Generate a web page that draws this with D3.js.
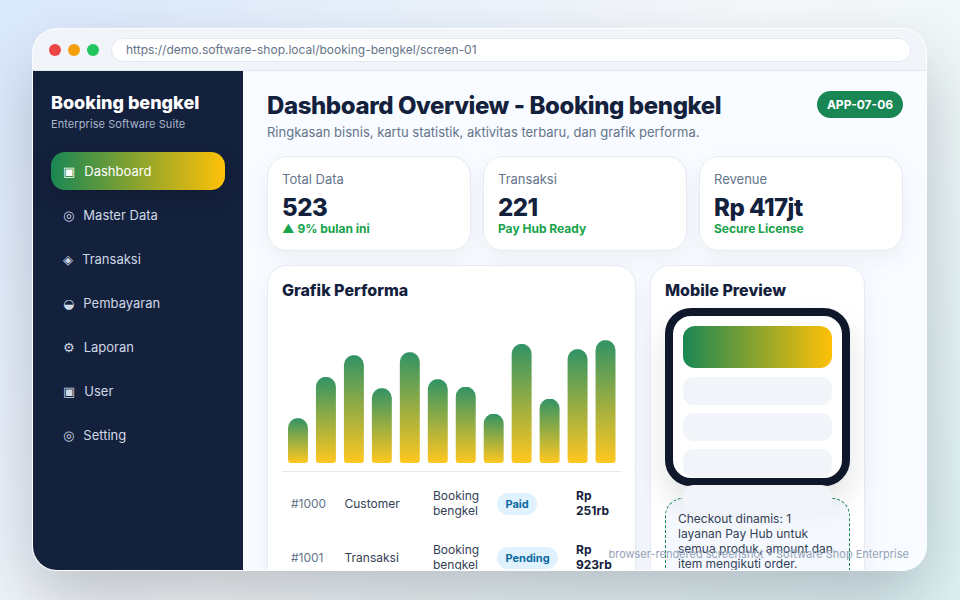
<!DOCTYPE html>
<html>
<head>
<meta charset="utf-8">
<script src="https://cdn.jsdelivr.net/npm/d3@7"></script>
<style>
* { box-sizing: border-box; }
html, body { margin: 0; width: 960px; height: 600px; overflow: hidden; }
body {
    font-family: Inter, "DejaVu Sans", sans-serif;
    background: linear-gradient(135deg, #dbeafe 0%, #f8fafc 50%, #dff4f5 100%);
    position: relative;
}
.abs { position: absolute; white-space: nowrap; }
#win {
    position: absolute; left: 33px; top: 29px; width: 893px; height: 541px;
    border-radius: 24px; overflow: hidden; background: #f8fbff;
}
#shadow {
    position: absolute; left: 32px; top: 28px; width: 895px; height: 543px;
    border-radius: 25px; background: rgba(255, 255, 255, .85);
    box-shadow: 0 30px 70px rgba(15, 23, 42, .25);
}
#bar { left: 0; top: 0; width: 894px; height: 42px; background: #f1f5f9; border-bottom: 1px solid #e2e8f0; }
.dot { top: 15px; width: 12px; height: 12px; border-radius: 50%; }
#url {
    left: 78px; top: 9px; width: 800px; height: 24px; background: #fff; border: 1px solid #e2e8f0;
    border-radius: 12px; font-size: 12px; line-height: 22px; padding-left: 14px; color: #64748b;
}
#side { left: 0; top: 42px; width: 210px; height: 500px; background: #14213d; }
#brand { left: 18px; top: 20px; font-size: 18px; font-weight: 800; color: #fff; line-height: 24px; }
#suite { left: 18px; top: 46px; font-size: 11px; color: #a9b6ca; line-height: 14px; letter-spacing: .08px; }
.nav {
    left: 18px; width: 174px; height: 38px; border-radius: 14px; padding-left: 12px;
    display: flex; align-items: center; gap: 9px; font-size: 13px; color: #cfd8e6;
}
.nav .ico { font-weight: 700; }
.nav.on { background: linear-gradient(90deg, #198754, #ffc107); color: #fff; box-shadow: 0 8px 20px rgba(0, 0, 0, .18); }
#title { left: 234px; top: 60px; font-size: 24px; font-weight: 800; color: #14213d; line-height: 34px; letter-spacing: -0.4px; }
#sub { left: 234px; top: 94px; font-size: 13px; color: #64748b; line-height: 18px; }
#tag {
    left: 784px; top: 62px; width: 86px; height: 27px; border-radius: 14px; background: #198754; color: #fff;
    font-size: 12px; font-weight: 700; text-align: center; line-height: 27px;
}
.card { background: #fff; border: 1px solid #e6ebf2; border-radius: 20px; box-shadow: 0 8px 24px rgba(15, 23, 42, .05); }
.stat { top: 127px; width: 204px; height: 95px; }
.stat .lab { left: 14px; top: 14px; font-size: 13px; color: #64748b; line-height: 16px; }
.stat .val { left: 14px; top: 36px; font-size: 24px; font-weight: 800; color: #14213d; line-height: 30px; letter-spacing: -0.5px; }
.stat .note { left: 14px; top: 64px; font-size: 12px; font-weight: 700; color: #16a34a; line-height: 15px; }
#chartCard { left: 234px; top: 236px; width: 369px; height: 340px; }
#phoneCard { left: 617px; top: 236px; width: 215px; height: 340px; }
.h3 { left: 14px; top: 13px; font-size: 16px; font-weight: 800; color: #14213d; line-height: 22px; }
#plot { position: absolute; left: 0; top: 0; }
#rule { left: 14px; top: 205px; width: 339px; height: 1px; background: #e2e8f0; }
.cell { font-size: 12px; line-height: 15px; color: #334155; }
.cell.id { color: #64748b; }
.cell.amt { font-weight: 700; color: #14213d; }
.badge {
    height: 22px; border-radius: 11px; background: #e0f2fe; color: #0b6aa2;
    font-size: 11px; font-weight: 700; line-height: 22px; padding: 0 8.5px;
}
#phone {
    left: 632px; top: 279px; width: 185px; height: 178px; border: 8px solid #0f172a; border-radius: 26px;
    background: #fff; box-shadow: 0 16px 30px rgba(15, 23, 42, .12);
}
.slot { left: 650px; width: 149px; border-radius: 10px; background: #f1f5f9; }
#hero { top: 297px; height: 42px; border-radius: 12px; background: linear-gradient(90deg, #198754, #ffc107); }
#note {
    left: 632px; top: 469px; width: 185px; height: 110px; border: 1px dashed #198754; border-radius: 18px;
    background: #f5f9ff;
}
#noteText { left: 645px; top: 482px; width: 160px; white-space: normal; font-size: 12px; line-height: 15px; color: #334155; }
#mark { right: 51px; top: 547px; font-size: 11px; color: #94a3b8; line-height: 14px; }
</style>
</head>
<body>
<div id="shadow"></div>
<div id="win"></div>
<div id="mark" class="abs"></div>
<script>
const barValues = [30, 57.5, 72, 50, 74, 56, 51, 33, 79.5, 43, 76, 82];

const navLabels = ['Dashboard', 'Master Data', 'Transaksi', 'Pembayaran', 'Laporan', 'User', 'Setting'];
const navIcons = ['\u25A3', '\u25CE', '\u25C8', '\u25D2', '\u2699', '\u25A3', '\u25CE'];

const statLabels = ['Total Data', 'Transaksi', 'Revenue'];
const statValues = ['523', '221', 'Rp 417jt'];
const statNotes = ['\u25B2 9% bulan ini', 'Pay Hub Ready', 'Secure License'];

const rowIds = ['#1000', '#1001'];
const rowNames = ['Customer', 'Transaksi'];
const rowStatus = ['Paid', 'Pending'];
const rowAmounts = ['Rp 251rb', 'Rp 923rb'];
const rowProduct = 'Booking bengkel';

const win = d3.select('#win');

function put(parent, cls, text, id) {
    const el = parent.append('div').attr('class', 'abs ' + cls);
    if (id) el.attr('id', id);
    if (text) el.text(text);
    return el;
}

// browser bar
const bar = put(win, '', null, 'bar');
['#ef4444', '#f59e0b', '#22c55e'].forEach((c, i) => {
    put(bar, 'dot').style('left', (16 + i * 19) + 'px').style('background', c);
});
put(bar, '', 'https://demo.software-shop.local/booking-bengkel/screen-01', 'url');

// sidebar
const side = put(win, '', null, 'side');
put(side, '', 'Booking bengkel', 'brand');
put(side, '', 'Enterprise Software Suite', 'suite');
navLabels.forEach((label, i) => {
    const item = put(side, 'nav' + (i === 0 ? ' on' : '')).style('top', (81 + i * 44) + 'px');
    item.append('span').attr('class', 'ico').text(navIcons[i]);
    item.append('span').text(label);
});

// header
put(win, '', 'Dashboard Overview - Booking bengkel', 'title');
put(win, '', 'Ringkasan bisnis, kartu statistik, aktivitas terbaru, dan grafik performa.', 'sub');
put(win, '', 'APP-07-06', 'tag');

// stat cards
statLabels.forEach((label, i) => {
    const card = put(win, 'card stat').style('left', (234 + i * 216) + 'px');
    put(card, 'lab', label);
    put(card, 'val', statValues[i]);
    put(card, 'note', statNotes[i]);
});

// chart card
const chartCard = put(win, 'card', null, 'chartCard');
put(chartCard, 'h3', 'Grafik Performa');

const plotW = 369, plotH = 210;
const base = 197; // bar baseline inside the card
const svg = chartCard.append('svg').attr('id', 'plot').attr('width', plotW).attr('height', plotH);

const x = d3.scaleBand()
    .domain(barValues.map((d, i) => i))
    .range([20, 347.5])
    .paddingInner(8 / 27.9);

const y = d3.scaleLinear().domain([0, 100]).range([base, base - 150]);

const grad = svg.append('defs').append('linearGradient')
    .attr('id', 'barFill')
    .attr('x1', 0).attr('y1', 0).attr('x2', 0).attr('y2', 1);
grad.append('stop').attr('offset', 0).attr('stop-color', '#198754');
grad.append('stop').attr('offset', 1).attr('stop-color', '#ffc107');

function barPath(d, i) {
    const x0 = x(i), w = x.bandwidth(), top = y(d), r = 10, b = 3;
    return `M${x0},${top + r}A${r},${r} 0 0 1 ${x0 + r},${top}L${x0 + w - r},${top}` +
        `A${r},${r} 0 0 1 ${x0 + w},${top + r}L${x0 + w},${base - b}A${b},${b} 0 0 1 ${x0 + w - b},${base}` +
        `L${x0 + b},${base}A${b},${b} 0 0 1 ${x0},${base - b}Z`;
}

svg.selectAll('path.bar')
    .data(barValues)
    .enter()
    .append('path')
    .attr('class', 'bar')
    .attr('d', barPath)
    .attr('fill', 'url(#barFill)')
    .attr('opacity', 0.9);

put(chartCard, '', null, 'rule');

// table rows
rowIds.forEach((id, i) => {
    const top = 222 + i * 54;
    put(chartCard, 'cell id', id).style('left', '23px').style('top', (top + 8) + 'px');
    put(chartCard, 'cell', rowNames[i]).style('left', '76.5px').style('top', (top + 8) + 'px');
    put(chartCard, 'cell', rowProduct).style('left', '165px').style('top', top + 'px')
        .style('white-space', 'normal').style('width', '60px');
    put(chartCard, 'badge', rowStatus[i]).style('left', '229px').style('top', (top + 5) + 'px');
    put(chartCard, 'cell amt', rowAmounts[i]).style('left', '308px').style('top', top + 'px')
        .style('white-space', 'normal').style('width', '42px');
});

// mobile preview
const phoneCard = put(win, 'card', null, 'phoneCard');
put(phoneCard, 'h3', 'Mobile Preview');
put(win, '', null, 'note');
put(win, '', 'Checkout dinamis: 1 layanan Pay Hub untuk semua produk, amount dan item mengikuti order.', 'noteText');
put(win, '', null, 'phone');
put(win, 'slot', null, 'hero');
[348, 384, 420, 456].forEach(top => {
    put(win, 'slot').style('top', top + 'px').style('height', '28px');
});

d3.select('#mark').text('browser-rendered screenshot \u2022 Software Shop Enterprise');
</script>
</body>
</html>
